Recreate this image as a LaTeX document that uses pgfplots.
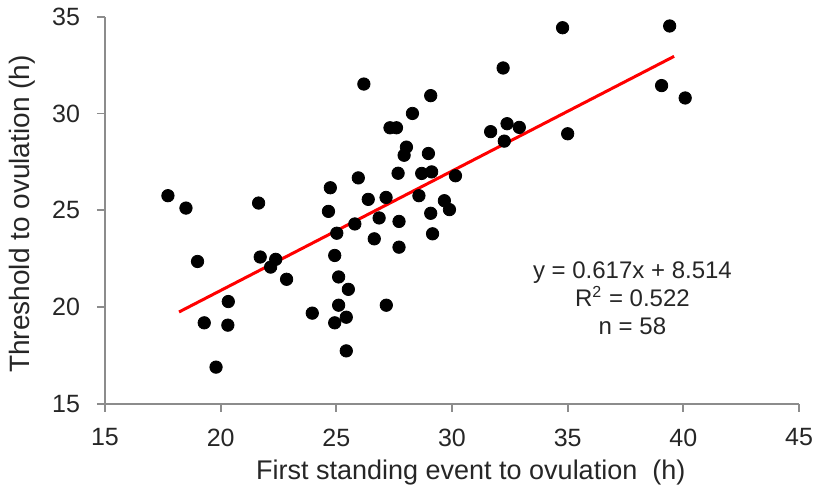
\documentclass[border=0pt]{standalone}
\usepackage{fontspec}
\setmainfont{Liberation Sans}
\usepackage{pgfplots}
\pgfplotsset{compat=1.18}
\definecolor{axgray}{HTML}{8C8C8C}
\definecolor{txt}{HTML}{262626}
\begin{document}
\begin{tikzpicture}
\begin{axis}[
  name=ax,
  scale only axis, width=347pt, height=193.5pt,
  xmin=15, xmax=45, ymin=15, ymax=35,
  xtick={15,20,...,45}, ytick={15,20,...,35},
  axis x line*=bottom, axis y line*=left,
  axis line style={draw=axgray, line width=0.9pt},
  tick style={draw=axgray, line width=0.9pt},
  tick align=outside, major tick length=4pt,
  /pgf/number format/assume math mode=true,
  tick label style={font=\fontsize{12.5}{14}\selectfont, text=txt},
  xticklabel style={yshift=-5pt},
  yticklabel style={xshift=-5pt},
  xlabel={First standing event to ovulation\ \ (h)},
  ylabel={Threshold to ovulation (h)},
  xlabel style={font=\fontsize{13.5}{16}\selectfont, text=txt, at={(axis description cs:0.527,-0.178)}, anchor=center},
  ylabel style={font=\fontsize{14}{16}\selectfont, text=txt, at={(axis description cs:-0.1196,0.49)}, anchor=center},
  clip=false,
]
\addplot[only marks, mark=*, mark size=3.1pt, mark options={fill=black, draw=black}] coordinates {
(17.72,25.75) (18.50,25.11) (19.00,22.35) (19.29,19.18) (20.33,20.28)
(20.31,19.06) (19.80,16.89) (21.64,25.37) (21.71,22.58) (22.38,22.46)
(22.16,22.06) (22.85,21.43) (23.96,19.68) (24.74,26.16) (24.66,24.94)
(25.02,23.81) (24.93,22.66) (25.10,21.55) (25.52,20.91) (25.10,20.09)
(24.93,19.18) (25.43,19.47) (25.43,17.73) (26.19,31.52) (25.95,26.67)
(26.38,25.56) (27.15,25.66) (26.85,24.60) (25.80,24.29) (26.64,23.52)
(27.16,20.09) (27.32,29.26) (27.60,29.26) (27.67,26.91) (27.71,24.42)
(27.71,23.09) (34.78,34.43) (39.41,34.52) (32.21,32.35) (29.08,30.92)
(28.29,30.00) (39.06,31.44) (40.08,30.80) (31.67,29.06) (32.38,29.47)
(32.91,29.28) (32.26,28.57) (35.00,28.95) (28.03,28.26) (27.93,27.84)
(28.98,27.93) (28.69,26.90) (29.12,26.98) (30.15,26.78) (28.57,25.75)
(29.67,25.49) (29.89,25.03) (29.08,24.84) (29.16,23.78)
};
\addplot[red, line width=1.5pt, mark=none] coordinates {(18.2,19.74) (39.6,32.95)};
\node[font=\fontsize{12}{14}\selectfont, text=txt, align=center, anchor=center]
  at (axis cs:37.8,20.45) {y = 0.617x + 8.514\\R\textsuperscript{2} = 0.522\\n = 58};
\end{axis}
\pgfresetboundingbox
\path ([xshift=-52.5pt,yshift=-44.5pt]ax.south west) rectangle ([xshift=7.5pt,yshift=8.35pt]ax.north east);
\end{tikzpicture}
\end{document}
